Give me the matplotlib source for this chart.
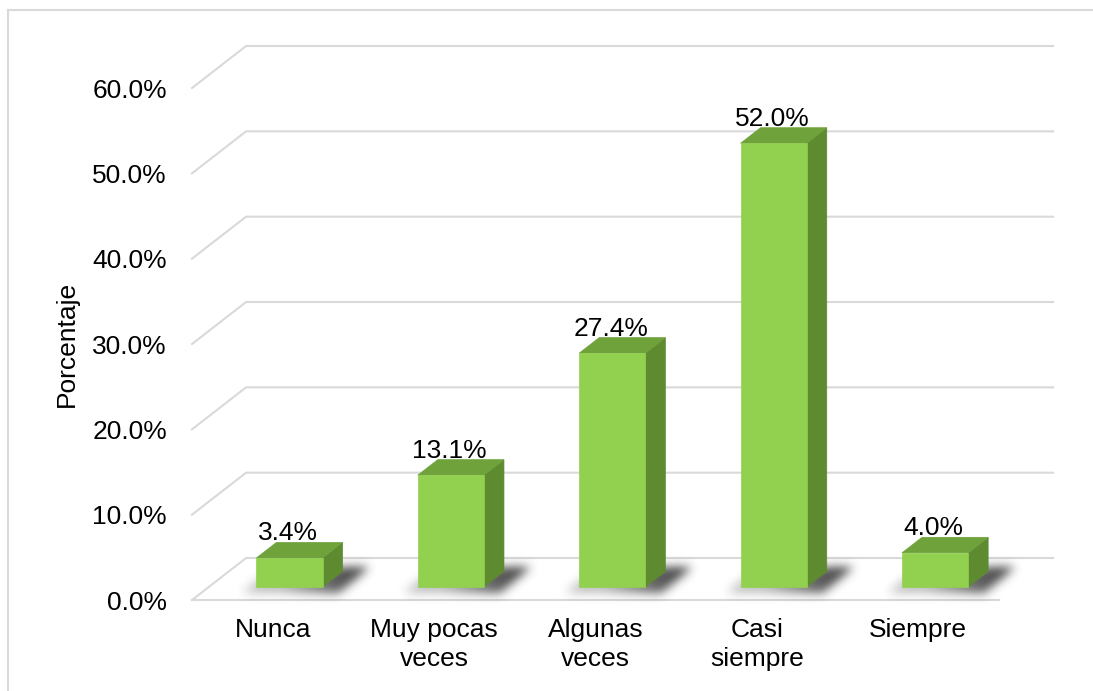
import numpy as np
import matplotlib
matplotlib.use("Agg")
import matplotlib.pyplot as plt
from matplotlib.patches import Polygon
from matplotlib.lines import Line2D
from matplotlib.path import Path

plt.rcParams['font.family'] = ['Liberation Sans', 'DejaVu Sans']

categories = ["Nunca", "Muy pocas\nveces", "Algunas\nveces", "Casi\nsiempre", "Siempre"]
percentages = [3.4, 13.1, 27.4, 52.0, 4.0]
y_ticks = [0, 10, 20, 30, 40, 50, 60]

W, H = 1093, 691
FS = 19
TXT = "#000000"
GRID = "#D9D9D9"
FRONT = "#92D050"
TOP = "#6FA23B"
SIDE = "#5E8A30"

fig = plt.figure(figsize=(W / 100, H / 100), dpi=100)
ax = fig.add_axes([192 / W, 91 / H, 807 / W, 512 / H])
ax.set_xlim(-0.5, 4.5)
ax.set_ylim(0, 60)
for s in ax.spines.values():
    s.set_visible(False)

# depth offsets of the pseudo-3D walls (category units, percent units)
DX, DY = 0.335, 4.92
# bar depth span and half width
D0, D1 = 0.31, 0.68
HW = 0.205

# walls: side-wall diagonals and back-wall gridlines
x_left, x_right = -0.5, 4.5
for v in y_ticks:
    ax.add_line(Line2D([x_left, x_left + DX, x_right + DX], [v, v + DY, v + DY],
                       color=GRID, lw=1.5, clip_on=False, zorder=1))
ax.add_line(Line2D([x_left, x_right], [0, 0], color=GRID, lw=1.5,
                   clip_on=False, zorder=1))

# soft shadows beneath the bars
fig.canvas.draw()
trans = ax.transData
mask = np.zeros((H, W))
cols, rows = np.meshgrid(np.arange(W) + 0.5, H - (np.arange(H) + 0.5))
pts = np.column_stack([cols.ravel(), rows.ravel()])
for i, v in enumerate(percentages):
    xl, xr = i - HW, i + HW
    foot = np.array([[xl + D0 * DX, D0 * DY], [xr + D0 * DX, D0 * DY],
                     [xr + D1 * DX, D1 * DY], [xl + D1 * DX, D1 * DY]])
    disp = trans.transform(foot)
    disp[0, 0] -= 14
    disp[1, 0] += 16
    disp[2, 0] += 26
    disp[3, 0] -= 2
    disp[0, 1] -= 6
    disp[1, 1] -= 6
    disp[2, 1] += 4
    disp[3, 1] += 4
    inside = Path(disp).contains_points(pts).reshape(H, W).astype(float)
    ramp = np.clip((cols - disp[0, 0]) / (disp[2, 0] - disp[0, 0]), 0.3, 1.0)
    mask = np.maximum(mask, inside * ramp)

sig = 5.0
k = np.arange(-16, 17)
kern = np.exp(-k ** 2 / (2 * sig ** 2))
kern /= kern.sum()
mask = np.apply_along_axis(lambda r: np.convolve(r, kern, mode="same"), 1, mask)
mask = np.apply_along_axis(lambda c: np.convolve(c, kern, mode="same"), 0, mask)
img = np.zeros((H, W, 4))
img[..., :3] = 0.1
img[..., 3] = np.clip(mask * 0.95, 0, 1)
inv = trans.inverted()
(ex0, ey0), (ex1, ey1) = inv.transform([[0, 0], [W, H]])
ax.imshow(img, extent=(ex0, ex1, ey0, ey1), origin="upper", aspect="auto",
          interpolation="bilinear", zorder=2, clip_on=False)
ax.set_xlim(-0.5, 4.5)
ax.set_ylim(0, 60)

# bars as boxes: front, top and side faces
for i, v in enumerate(percentages):
    xl, xr = i - HW, i + HW
    o0x, o0y = D0 * DX, D0 * DY
    o1x, o1y = D1 * DX, D1 * DY
    front = [[xl + o0x, o0y], [xr + o0x, o0y], [xr + o0x, v + o0y], [xl + o0x, v + o0y]]
    top = [[xl + o0x, v + o0y], [xr + o0x, v + o0y], [xr + o1x, v + o1y], [xl + o1x, v + o1y]]
    side = [[xr + o0x, o0y], [xr + o1x, o1y], [xr + o1x, v + o1y], [xr + o0x, v + o0y]]
    for poly, col in ((side, SIDE), (top, TOP), (front, FRONT)):
        ax.add_patch(Polygon(poly, closed=True, facecolor=col, edgecolor=col,
                             lw=0.5, zorder=3, clip_on=False))
    ax.text(i + o0x - 0.01, v + o1y + 0.25, f"{v:.1f}%", ha="center", va="baseline",
            fontsize=FS, color=TXT, zorder=4, clip_on=False)

ax.set_yticks(y_ticks)
ax.set_yticklabels([f"{t:.1f}%" for t in y_ticks])
ax.set_xticks(range(len(categories)))
ax.set_xticklabels(categories)
ax.tick_params(axis="y", length=0, pad=18, labelsize=FS, labelcolor=TXT)
ax.tick_params(axis="x", length=0, pad=13, labelsize=FS, labelcolor=TXT)
for lbl in ax.get_xticklabels():
    lbl.set_linespacing(1.25)
ax.set_ylabel("Porcentaje", fontsize=FS, color=TXT)
ax.yaxis.set_label_coords((79 - 192) / 807, 0.5)

# outer frame
fig.add_artist(Line2D([8 / W, 1.0], [1 - 9.5 / H, 1 - 9.5 / H], color=GRID,
                      lw=1.5, transform=fig.transFigure))
fig.add_artist(Line2D([8 / W, 8 / W], [0, 1 - 9.5 / H], color=GRID,
                      lw=1.5, transform=fig.transFigure))

fig.savefig("out.png", dpi=100)
